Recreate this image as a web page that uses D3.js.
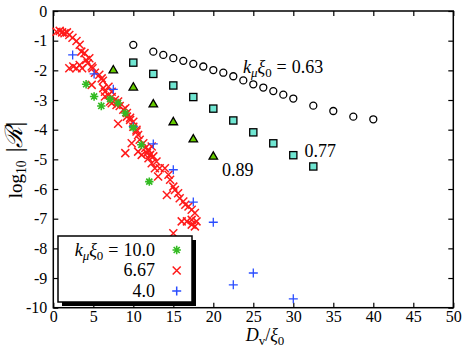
<!DOCTYPE html>
<html>
<head>
<meta charset="utf-8">
<script src="https://cdn.jsdelivr.net/npm/d3@7"></script>
<style>
  html, body { margin: 0; padding: 0; background: #fff; }
  svg { display: block; }
  text { font-family: "Liberation Serif", "DejaVu Serif", serif; fill: #000; }
</style>
</head>
<body>
<svg id="chart" width="464" height="351"></svg>
<script>
// ---- data ----
const xTicks = [0, 5, 10, 15, 20, 25, 30, 35, 40, 45, 50];
const yTicks = [0, -1, -2, -3, -4, -5, -6, -7, -8, -9, -10];

// k_mu xi_0 = 0.63 (open circles)
const circ063 = [[10,-1.14],[12.5,-1.37],[13.75,-1.48],[15,-1.59],[16.25,-1.68],[17.5,-1.78],
  [18.75,-1.87],[20,-1.99],[21.25,-2.08],[22.5,-2.2],[23.75,-2.34],[25,-2.47],[26.25,-2.58],
  [27.5,-2.7],[28.75,-2.82],[30,-2.95],[32.5,-3.19],[35,-3.37],[37.5,-3.56],[40,-3.65]];
// 0.77 (squares)
const sq077 = [[10,-1.74],[12.5,-2.12],[15,-2.51],[17.5,-2.9],[20,-3.29],[22.5,-3.69],
  [25,-4.09],[27.5,-4.46],[30,-4.86],[32.5,-5.24]];
// 0.89 (triangles)
const tri089 = [[7.5,-1.99],[10,-2.57],[12.5,-3.14],[15,-3.74],[17.5,-4.32],[20,-4.9]];
// 10.0 (green asterisks)
const k100 = [[4.1,-2.47],[5.1,-2.88],[6.0,-3.2],[7.1,-2.97],[8.1,-3.1],[9.0,-3.44],
  [10.0,-3.93],[11.0,-4.51],[12.0,-5.75]];
// 6.67 (red crosses)
const k667 = [[0.4,-0.70],[0.8,-0.67],[1.1,-0.72],[1.4,-0.75],[1.7,-0.72],[2.0,-0.81],[2.4,-0.90],
  [2.0,-1.93],[2.5,-1.87],[2.9,-1.01],[2.9,-1.93],[3.3,-1.14],[3.3,-1.82],[3.5,-1.37],[3.6,-1.93],
  [3.9,-1.42],[4.1,-1.65],[4.3,-1.76],[4.5,-1.59],[4.8,-1.87],[4.8,-2.49],[4.9,-1.93],[5.2,-2.08],
  [5.75,-2.15],[6.05,-2.27],[6.25,-2.6],[6.2,-2.35],[6.46,-2.72],[6.46,-2.88],[6.9,-2.55],[6.9,-2.83],
  [7.1,-3.05],[7.3,-2.72],[7.3,-2.9],[7.3,-3.11],[7.7,-3.0],[7.9,-3.17],[8.1,-3.05],[8.1,-3.8],
  [8.3,-3.2],[8.75,-3.33],[9.0,-3.28],[9.0,-4.79],[9.2,-3.44],[9.2,-3.56],[9.6,-3.6],[9.6,-3.67],
  [9.8,-4.46],[10.0,-3.73],[10.0,-3.9],[10.4,-4.0],[10.4,-4.06],[10.6,-4.18],[10.6,-4.74],[10.8,-4.34],
  [11.05,-4.85],[11.25,-4.46],[11.5,-4.62],[11.7,-4.79],[11.9,-4.68],[11.9,-4.96],[12.1,-4.85],
  [12.3,-4.57],[12.3,-5.13],[12.5,-4.9],[12.7,-5.3],[12.9,-5.07],[13.1,-5.58],[13.3,-5.3],[13.95,-5.3],
  [14.2,-6.2],[14.4,-5.52],[14.6,-5.69],[15.0,-5.92],[15.0,-7.49],[15.2,-6.03],[15.6,-6.14],[15.8,-6.31],
  [16.05,-7.09],[16.25,-6.42],[16.5,-6.53],[16.7,-7.09],[16.9,-6.59],[17.3,-6.7],[17.3,-7.04],[17.3,-7.2],
  [17.7,-6.81],[17.7,-7.26],[17.9,-7.09]];
// 4.0 (blue pluses)
const k40 = [[2.42,-1.48],[5.1,-2.12],[7.5,-2.64],[10,-3.9],[12.5,-4.48],[15,-5.35],
  [17.5,-6.44],[20,-7.12],[22.5,-9.23],[25,-8.83],[30,-9.7]];

const legendLabels = ["10.0", "6.67", "4.0"];
const annot = [{x: 23.7, y: -2.1, label: "0.63", prefix: true},
               {x: 31.4, y: -4.92, label: "0.77"},
               {x: 21.1, y: -5.57, label: "0.89"}];

// ---- layout ----
const svg = d3.select("#chart");
const L = 53.3, T = 11, W = 400, H = 296.7;
const x = d3.scaleLinear().domain([0, 50]).range([L, L + W]);
const y = d3.scaleLinear().domain([-10, 0]).range([T + H, T]);

const fmt = d => String(d);
const axG = svg.append("g");
function styleAxis(g) {
  g.select(".domain").remove();
  g.selectAll(".tick line").attr("stroke", "#000").attr("stroke-width", 1.2);
  g.selectAll(".tick text").style("font-size", "16px").attr("fill", "#000");
}
axG.append("g").attr("transform", `translate(0,${T + H})`)
  .call(d3.axisBottom(x).tickValues(xTicks).tickSize(-5).tickSizeOuter(0).tickPadding(3).tickFormat(fmt))
  .call(styleAxis);
axG.append("g").attr("transform", `translate(0,${T})`)
  .call(d3.axisTop(x).tickValues(xTicks).tickSize(-5).tickSizeOuter(0).tickFormat(""))
  .call(styleAxis);
axG.append("g").attr("transform", `translate(${L},0)`)
  .call(d3.axisLeft(y).tickValues(yTicks).tickSize(-5).tickSizeOuter(0).tickPadding(6).tickFormat(fmt))
  .call(styleAxis);
axG.append("g").attr("transform", `translate(${L + W},0)`)
  .call(d3.axisRight(y).tickValues(yTicks).tickSize(-5).tickSizeOuter(0).tickFormat(""))
  .call(styleAxis);

svg.append("rect").attr("x", L).attr("y", T).attr("width", W).attr("height", H)
  .attr("fill", "none").attr("stroke", "#000").attr("stroke-width", 1.5);

// ---- marker paths ----
function crossPath(r) { return `M${-r},${-r}L${r},${r}M${-r},${r}L${r},${-r}`; }
function plusPath(r) { return `M${-r},0L${r},0M0,${-r}L0,${r}`; }
function starPath(r) { const a = r * 0.72; return plusPath(r) + `M${-a},${-a}L${a},${a}M${-a},${a}L${a},${-a}`; }
function triPath(s) { const h = s * Math.sqrt(3) / 2; return `M0,${-h * 0.62}L${s / 2},${h * 0.38}L${-s / 2},${h * 0.38}Z`; }

const marks = svg.append("g");
marks.selectAll(".tri").data(tri089).join("path")
  .attr("transform", d => `translate(${x(d[0])},${y(d[1])})`)
  .attr("d", triPath(8.5)).attr("fill", "#66cc00").attr("stroke", "#000").attr("stroke-width", 1.3);
marks.selectAll(".sq").data(sq077).join("rect")
  .attr("x", d => x(d[0]) - 3.6).attr("y", d => y(d[1]) - 3.6).attr("width", 7.2).attr("height", 7.2)
  .attr("fill", "#70e6d2").attr("stroke", "#000").attr("stroke-width", 1.3);
marks.selectAll(".ci").data(circ063).join("circle")
  .attr("cx", d => x(d[0])).attr("cy", d => y(d[1])).attr("r", 3.5)
  .attr("fill", "#fff").attr("stroke", "#000").attr("stroke-width", 1.3);
marks.selectAll(".rx").data(k667).join("path")
  .attr("transform", d => `translate(${x(d[0])},${y(d[1])})`)
  .attr("d", crossPath(4)).attr("fill", "none").attr("stroke", "#ff1a1a").attr("stroke-width", 1.5);
marks.selectAll(".bp").data(k40).join("path")
  .attr("transform", d => `translate(${x(d[0])},${y(d[1])})`)
  .attr("d", plusPath(4.5)).attr("fill", "none").attr("stroke", "#2a4dff").attr("stroke-width", 1.3);
marks.selectAll(".gs").data(k100).join("path")
  .attr("transform", d => `translate(${x(d[0])},${y(d[1])})`)
  .attr("d", starPath(4.2)).attr("fill", "none").attr("stroke", "#33bb22").attr("stroke-width", 1.6);

// ---- kxi label helper (returns dx to use before the value) ----
function kxi(t) {
  t.append("tspan").attr("font-style", "italic").text("k");
  t.append("tspan").attr("font-style", "italic").attr("dy", 4).style("font-size", "0.72em").text("μ");
  t.append("tspan").attr("font-style", "italic").attr("dy", -4).text("ξ");
  t.append("tspan").attr("dy", 4).style("font-size", "0.72em").text("0");
  t.append("tspan").attr("dy", -4).attr("dx", 5).text("=");
  return 5;
}

// ---- annotations ----
annot.forEach(a => {
  const t = svg.append("text").attr("x", x(a.x)).attr("y", y(a.y)).style("font-size", "18px");
  const dx = a.prefix ? kxi(t) : 0;
  t.append("tspan").attr("dx", dx).text(a.label);
});

// ---- legend ----
const lg = svg.append("g");
const lx = 58, ly = 236, lw = 134, lh = 66;
lg.append("rect").attr("x", lx + 4).attr("y", ly + 4).attr("width", lw).attr("height", lh).attr("fill", "#000");
lg.append("rect").attr("x", lx).attr("y", ly).attr("width", lw).attr("height", lh)
  .attr("fill", "#fff").attr("stroke", "#000").attr("stroke-width", 1.5);
const legPaths = [starPath(4.2), crossPath(4), plusPath(4.5)];
const legCols = ["#33bb22", "#ff1a1a", "#2a4dff"];
legendLabels.forEach((lab, i) => {
  const by = 255.5 + i * 20.5;
  const t = lg.append("text").attr("x", 155).attr("y", by).attr("text-anchor", "end").style("font-size", "18px");
  const dx = i === 0 ? kxi(t) : 0;
  t.append("tspan").attr("dx", dx).text(lab);
  lg.append("path").attr("transform", `translate(176.7,${by - 5.5})`).attr("d", legPaths[i])
    .attr("fill", "none").attr("stroke", legCols[i]).attr("stroke-width", i === 0 ? 1.6 : 1.5);
});

// ---- axis titles ----
const xt = svg.append("text").attr("x", 265).attr("y", 341).attr("text-anchor", "middle").style("font-size", "18px");
xt.append("tspan").attr("font-style", "italic").text("D");
xt.append("tspan").attr("dy", 4).style("font-size", "0.72em").text("v");
xt.append("tspan").attr("dy", -4).text("/");
xt.append("tspan").attr("font-style", "italic").text("ξ");
xt.append("tspan").attr("dy", 4).style("font-size", "0.72em").text("0");

const yt = svg.append("text").attr("transform", "translate(22,160) rotate(-90)").attr("text-anchor", "middle").style("font-size", "19px");
yt.append("tspan").text("log");
yt.append("tspan").attr("dy", 4).style("font-size", "0.72em").text("10");
yt.append("tspan").attr("dy", -4).attr("dx", 8).style("font-size", "24px").text("|");
yt.append("tspan").attr("font-style", "italic").style("font-size", "24px").text("ℛ");
yt.append("tspan").style("font-size", "24px").text("|");
</script>
</body>
</html>
